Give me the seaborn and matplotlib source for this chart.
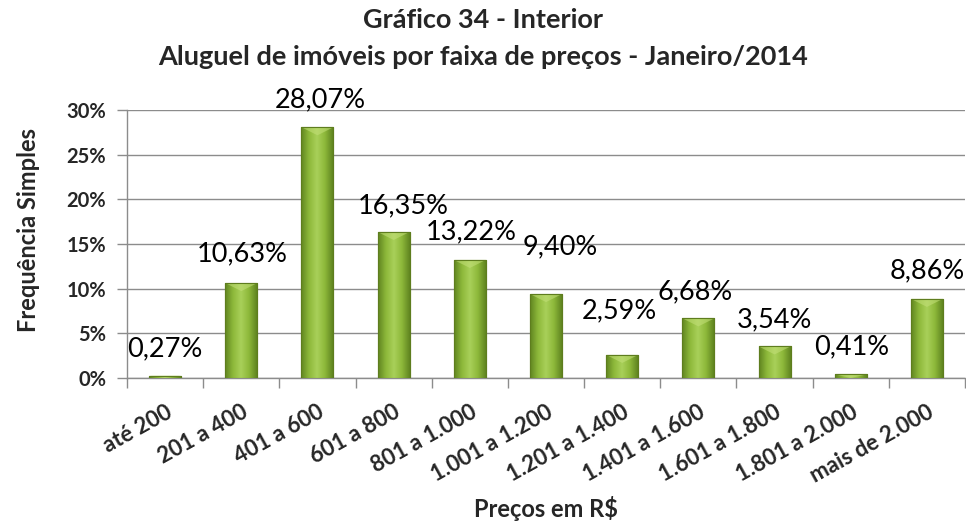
import numpy as np
import pandas as pd
import matplotlib
matplotlib.use("Agg")
import matplotlib.pyplot as plt
from matplotlib.colors import LinearSegmentedColormap
from matplotlib.ticker import FuncFormatter
import seaborn as sns

# Data
faixas = ["até 200", "201 a 400", "401 a 600", "601 a 800", "801 a 1.000",
          "1.001 a 1.200", "1.201 a 1.400", "1.401 a 1.600", "1.601 a 1.800",
          "1.801 a 2.000", "mais de 2.000"]
frequencia = [0.27, 10.63, 28.07, 16.35, 13.22, 9.40, 2.59, 6.68, 3.54, 0.41, 8.86]

# Label placement tweaks (points): horizontal shift and height above the bar
label_dx = [0, 1, 2, 7, 1, 10, -2, -2, 0, 1, 0]
label_dy = [19, 21, 20, 19, 20, 34, 32, 19, 19, 20, 20]

sns.set_theme(style="white")
plt.rcParams["font.family"] = ["Lato", "DejaVu Sans"]

df = pd.DataFrame({"faixa": faixas, "freq": frequencia})

fig = plt.figure(figsize=(9.66, 5.27), dpi=100)
ax = fig.add_axes([0.1315, 0.2827, 0.8675, 0.5086])

sns.barplot(data=df, x="faixa", y="freq", ax=ax, width=0.42,
            color="#8DB43A", edgecolor="#5E7D1E", linewidth=0.8, zorder=3)

# Shaded fill across each bar: darker edges, light centre
shade = LinearSegmentedColormap.from_list(
    "verde", ["#5F8420", "#8DB83A", "#A9D05A", "#8DB83A", "#5F8420"])
grad = np.linspace(0, 1, 256).reshape(1, -1)
for patch in ax.patches:
    x0, y0 = patch.get_x(), patch.get_y()
    w, h = patch.get_width(), patch.get_height()
    im = ax.imshow(grad, cmap=shade, aspect="auto",
                   extent=[x0, x0 + w, y0, y0 + h], zorder=3.5,
                   interpolation="bicubic")
    im.set_clip_path(patch)
    # light bevel at the top of the bar
    bev = min(h, 0.9)
    ax.fill([x0, x0 + w, x0 + w / 2], [y0 + h, y0 + h, y0 + h - bev],
            color="#C4E07A", alpha=0.55, zorder=3.6, lw=0)
    ax.add_patch(plt.Rectangle((x0, y0), w, h, fill=False,
                               ec="#5E7D1E", lw=0.8, zorder=3.7))

ax.set_xlim(-0.5, len(faixas) - 0.5)
ax.set_ylim(0, 30)
ax.set_yticks(np.arange(0, 31, 5))
ax.yaxis.set_major_formatter(FuncFormatter(lambda v, _: f"{v:.0f}%"))
ax.grid(axis="y", color="#8C8C8C", lw=1, zorder=0)
ax.set_axisbelow(True)

# Tick marks on category boundaries, labels at category centres
ax.set_xticks(np.arange(-0.5, len(faixas), 1))
ax.set_xticklabels([])
ax.set_xticks(np.arange(len(faixas)), minor=True)
ax.set_xticklabels(faixas, minor=True, rotation=29, ha="right",
                   rotation_mode="anchor", fontsize=16, fontweight="bold")
ax.tick_params(axis="x", which="major", direction="out", length=7,
               color="#8C8C8C", width=1, bottom=True)
ax.tick_params(axis="x", which="minor", length=0, pad=17)
ax.tick_params(axis="y", direction="out", length=7, color="#8C8C8C",
               width=1, left=True, labelsize=14.5, pad=8)
for t in ax.get_yticklabels():
    t.set_fontweight("bold")

for s in ["top", "right"]:
    ax.spines[s].set_visible(False)
for s in ["left", "bottom"]:
    ax.spines[s].set_color("#8C8C8C")
    ax.spines[s].set_linewidth(1)

ax.set_xlabel("")
ax.set_ylabel("")
fig.text(0.565, 0.036, "Preços em R$", ha="center", va="center",
         fontsize=17, fontweight="bold")
fig.text(0.029, 0.563, "Frequência Simples", ha="center", va="center",
         rotation=90, fontsize=17, fontweight="bold")

# Value labels
for i, v in enumerate(frequencia):
    ax.annotate(f"{v:.2f}%".replace(".", ","), (i, v),
                xytext=(label_dx[i], label_dy[i]), textcoords="offset points",
                ha="center", va="center", fontsize=19.5, color="black")

fig.text(0.5, 0.962, "Gráfico 34 - Interior", ha="center", va="center",
         fontsize=19.5, fontweight="bold")
fig.text(0.5, 0.892, "Aluguel de imóveis por faixa de preços - Janeiro/2014",
         ha="center", va="center", fontsize=19.5, fontweight="bold")

fig.savefig("out.png", dpi=100)
